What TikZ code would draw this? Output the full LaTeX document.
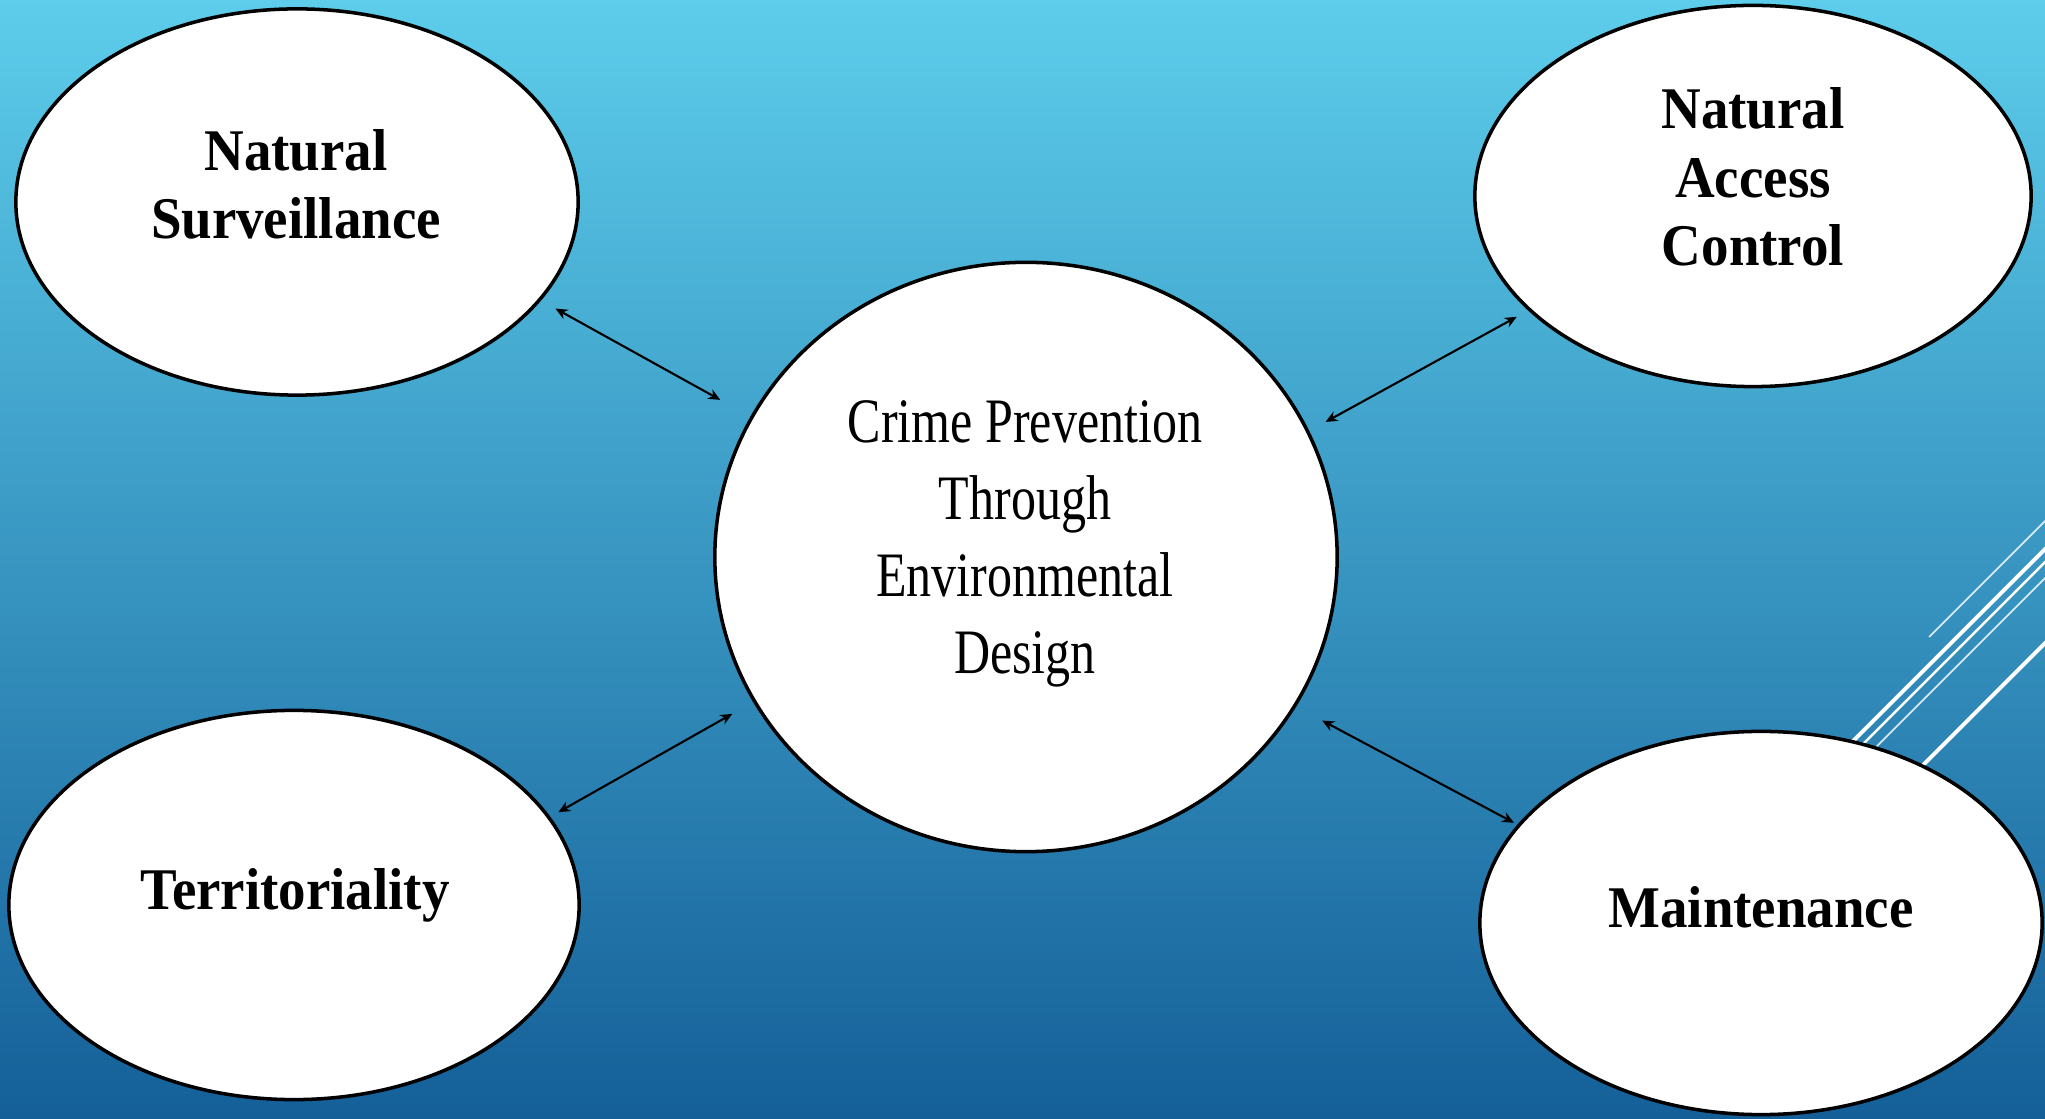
\documentclass[tikz,border=0pt]{standalone}
\usepackage{fontspec}
\setmainfont{Liberation Serif}
\newfontfamily\bubblefont[FakeStretch=0.93]{Liberation Serif}
\newfontfamily\corefont[FakeStretch=0.79]{Liberation Serif}
\usetikzlibrary{shapes.geometric,arrows.meta}
\definecolor{skytop}{HTML}{5DCDEB}
\definecolor{skymid}{HTML}{3A9AC6}
\definecolor{skybot}{HTML}{145F98}
\tikzset{
    bubble/.style = {draw=black, fill=white, line width=1pt, ellipse, inner sep=0pt},
    bubble-text/.style = {align=center, font=\bubblefont\bfseries\fontsize{16.8}{19.4}\selectfont},
    core-text/.style = {align=center, font=\corefont\fontsize{18}{21.9}\selectfont},
    link/.style = {{Stealth[length=3.4pt,width=3pt]}-{Stealth[length=3.4pt,width=3pt]}, line width=0.6pt},
    stripe/.style = {white, line cap=butt},
}

\begin{document}
\begin{tikzpicture}[x=0.01cm, y=-0.01cm]
\shade[top color=skytop, middle color=skymid, bottom color=skybot] (0,0) rectangle (2045,1119);
\useasboundingbox (0,0) rectangle (2045,1119);

% stripes on the right edge, partly hidden by the bubble below
\draw[stripe, line width=0.5pt, opacity=0.8] (1929,637) -- (2060,506);
\draw[stripe, line width=1.1pt] (1790,804) -- (2060,534);
\draw[stripe, line width=0.7pt] (1800,807) -- (2060,547);
\draw[stripe, line width=0.5pt, opacity=0.8] (1810,813) -- (2060,563);
\draw[stripe, line width=1.1pt] (1900,788) -- (2060,628);

% the five bubbles
\node[bubble, minimum width=5.62cm, minimum height=3.86cm] (surv) at (297,202) {};
\node[bubble, minimum width=5.56cm, minimum height=3.81cm] (access) at (1753,196) {};
\node[bubble, minimum width=6.22cm, minimum height=5.89cm] (cpted) at (1026,557) {};
\node[bubble, minimum width=5.70cm, minimum height=3.89cm] (terr) at (294,905) {};
\node[bubble, minimum width=5.62cm, minimum height=3.83cm] (maint) at (1761,923) {};

\node[bubble-text] (surv-label) at (296,184) {Natural\\Surveillance};
\node[bubble-text] (access-label) at (1753,177) {Natural\\Access\\Control};
\node[bubble-text] (terr-label) at (295,895) {Territoriality};
\node[bubble-text] (maint-label) at (1761,907) {Maintenance};
\node[core-text] (cpted-label) at (1025,544) {Crime Prevention\\Through\\Environmental\\Design};

% two-way links to the centre
\draw[link, shorten <=4.7pt, shorten >=9.8pt] (surv.-22) -- (cpted.153);
\draw[link, shorten <=3.7pt, shorten >=5.3pt] (access.207) -- (cpted.24);
\draw[link, shorten <=2.6pt, shorten >=6.8pt] (terr.19) -- (cpted.208);
\draw[link, shorten <=1.1pt, shorten >=8.4pt] (maint.158) -- (cpted.-29);
\end{tikzpicture}
\end{document}
